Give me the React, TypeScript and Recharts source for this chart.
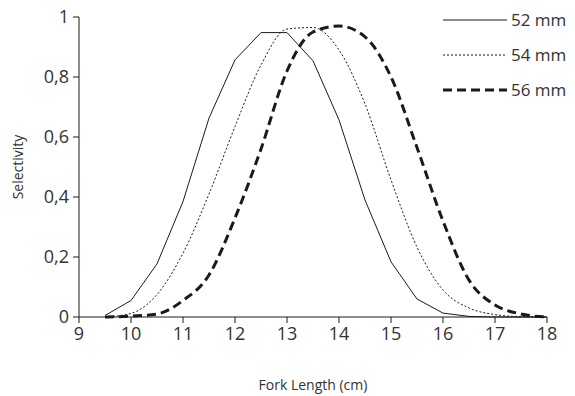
import { LineChart, Line, XAxis, YAxis } from 'recharts'

// fork length (cm)
const lengths = [9.5, 10, 10.5, 11, 11.5, 12, 12.5, 13, 13.5, 14, 14.5, 15, 15.5, 16, 16.5, 17, 17.5, 18]

// selectivity per mesh size
const mesh52 = [0.005, 0.055, 0.177, 0.385, 0.663, 0.857, 0.948, 0.948, 0.854, 0.657, 0.39, 0.184, 0.06, 0.013, 0.002, 0, 0, 0]
const mesh54 = [0, 0.012, 0.075, 0.213, 0.41, 0.635, 0.84, 0.96, 0.965, 0.89, 0.71, 0.457, 0.233, 0.09, 0.03, 0.008, 0.001, 0]
const mesh56 = [0, 0.003, 0.01, 0.055, 0.14, 0.33, 0.56, 0.82, 0.95, 0.97, 0.934, 0.8, 0.565, 0.32, 0.123, 0.04, 0.01, 0]

const xTicks = [9, 10, 11, 12, 13, 14, 15, 16, 17, 18]
const yTicks = [0, 0.2, 0.4, 0.6, 0.8, 1]

const seriesNames = ['52 mm', '54 mm', '56 mm']

const data = lengths.map((x, i) => ({
  x,
  m52: mesh52[i],
  m54: mesh54[i],
  m56: mesh56[i],
}))

const FONT = '"Open Sans", "DejaVu Sans", sans-serif'
const INK = '#1a1a1a'
const TEXT = '#333'

const lineStyles = [
  { width: 1, dash: undefined as string | undefined },
  { width: 1, dash: '2 2' },
  { width: 3, dash: '9 5' },
]

function LegendBox() {
  return (
    <div style={{ position: 'absolute', left: 443, top: 2, width: 132, fontFamily: FONT, fontSize: 17, color: TEXT }}>
      {seriesNames.map((name, i) => (
        <div key={name} style={{ display: 'flex', alignItems: 'center', height: 35 }}>
          <svg width={64} height={10} style={{ flexShrink: 0 }}>
            <line
              x1={0}
              x2={64}
              y1={5}
              y2={5}
              stroke={INK}
              strokeWidth={lineStyles[i].width}
              strokeDasharray={lineStyles[i].dash}
            />
          </svg>
          <span style={{ marginLeft: 4, whiteSpace: 'nowrap' }}>{name}</span>
        </div>
      ))}
    </div>
  )
}

export default function App() {
  return (
    <div style={{ position: 'relative', width: 575, height: 396, margin: '-8px 0 0 -8px' }}>
      <LineChart
        width={575}
        height={396}
        data={data}
        margin={{ top: 17, right: 28, bottom: 0, left: 8 }}
        style={{ fontFamily: FONT }}
      >
        <XAxis
          dataKey="x"
          type="number"
          domain={[9, 18]}
          ticks={xTicks}
          interval={0}
          height={79}
          stroke={INK}
          tickSize={6}
          tick={{ fill: TEXT, fontSize: 18 }}
          tickMargin={4}
          label={{ value: 'Fork Length (cm)', position: 'insideBottom', offset: 6, fill: TEXT, fontSize: 14 }}
        />
        <YAxis
          type="number"
          domain={[0, 1]}
          ticks={yTicks}
          interval={0}
          width={71}
          stroke={INK}
          tickSize={6}
          tick={{ fill: TEXT, fontSize: 18 }}
          tickMargin={4}
          tickFormatter={(v: number) => String(v).replace('.', ',')}
          label={{ value: 'Selectivity', angle: -90, position: 'insideLeft', offset: 10, fill: TEXT, fontSize: 14, style: { textAnchor: 'middle' } }}
        />
        <Line dataKey="m52" name={seriesNames[0]} stroke={INK} strokeWidth={1} dot={false} isAnimationActive={false} type="linear" />
        <Line dataKey="m54" name={seriesNames[1]} stroke={INK} strokeWidth={1} strokeDasharray="2 2" dot={false} isAnimationActive={false} type="monotone" />
        <Line dataKey="m56" name={seriesNames[2]} stroke={INK} strokeWidth={3} strokeDasharray="9 5" dot={false} isAnimationActive={false} type="monotone" />
      </LineChart>
      <LegendBox />
    </div>
  )
}
